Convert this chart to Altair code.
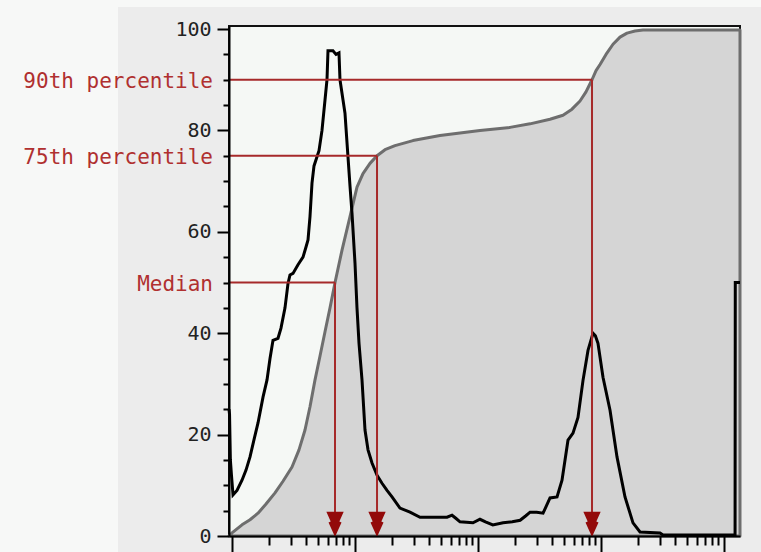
import altair as alt
import pandas as pd

# ---- data ----
# histogram (black line): channel value (log axis) and height
hist_x = [0.9454, 0.955, 0.97, 0.99, 1.019, 1.098, 1.206, 1.30, 1.401, 1.51, 1.627, 1.787, 1.926,
          2.037, 2.154, 2.366, 2.502, 2.697, 2.853, 2.961, 3.133, 3.44, 3.778, 3.996, 4.149, 4.306,
          4.471, 4.642, 4.91, 5.097, 5.391, 5.703, 5.92, 6.03, 6.62, 7.01, 7.41, 7.55, 7.99, 8.29,
          8.77, 9.107, 9.454, 10.0, 10.38, 10.78, 11.4, 12.06, 12.76, 13.75, 15.1, 16.58, 18.21,
          20.0, 23.2, 28.0, 33.8, 40.8, 56.0, 61.5, 66.0, 71.4, 91.0, 103.8, 115.0, 132.0, 160.0,
          190.0, 220.0, 245.0, 265.0, 300.0, 338.0, 385.0, 439.0, 482.0, 539.0, 592.0, 650.0,
          714.0, 784.0, 861.0, 900.0, 945.0, 1038.0, 1184.0, 1349.0, 1567.0, 1820.0, 2076.0,
          3017.0, 3192.0, 12300.0, 12350.0, 13490.0]
hist_y = [25, 24, 15, 12, 8.1, 9, 11, 13, 15.6, 19, 22.3, 27.4, 30.8,
          35, 38.6, 39, 41, 45, 49.8, 51.5, 51.8, 53.5, 55, 57, 58.4, 63,
          69.6, 73, 74.8, 76, 80, 86, 90, 95.7, 95.7, 95, 95.3, 90, 86, 83.4,
          74.8, 69, 63.7, 53.8, 45, 38, 30.8, 20.9, 17, 14.4, 12, 10.4, 9,
          7.7, 5.5, 4.7, 3.7, 3.7, 3.7, 4.1, 3.5, 2.8, 2.6, 3.3, 2.8, 2.2, 2.6,
          2.8, 3.1, 4.0, 4.7, 4.7, 4.5, 7.5, 7.7, 11, 18.9, 20.3, 23.4,
          30.7, 36.6, 40, 39.5, 38, 31.3, 24.8, 15.6, 7.7, 2.6, 0.8,
          0.6, 0.2, 0.2, 50, 50]

# cumulative percentage (grey area)
cdf_x = [0.9454, 1.0, 1.206, 1.401, 1.627, 1.89, 2.237, 2.598, 3.075, 3.505, 3.922, 4.306, 4.73,
         5.194, 5.703, 6.263, 6.88, 7.843, 9.107, 10.38, 11.61, 13.24, 15.1, 17.53, 21.14, 29.6,
         49.1, 103.8, 182.0, 264.8, 384.9, 491.0, 581.0, 675.0, 755.0, 845.0, 911.0, 982.0,
         1098.0, 1252.0, 1427.0, 1627.0, 1890.0, 2196.0, 13490.0]
cdf_y = [0, 0.6, 2.2, 3.2, 4.5, 6.3, 8.5, 10.8, 13.6, 17, 20.9, 25.5, 30.8,
         35.5, 40.3, 45, 50, 56.4, 63, 68.8, 71.5, 73.5, 75, 76.2, 77, 78,
         79, 80, 80.6, 81.3, 82.2, 83, 84.2, 85.8, 87.6, 90, 91.8, 93,
         95, 97, 98.4, 99.2, 99.6, 99.8, 99.8]

# percentile markers
pct_labels = ["Median", "75th percentile", "90th percentile"]
pct_levels = [50, 75, 90]
pct_x = [6.88, 15.1, 845.0]

x_ticks = [m * k for m in [1, 10, 100, 1000] for k in range(1, 10)] + [10000]
y_ticks = list(range(0, 101, 5))

XMIN, XMAX = 0.9454, 13490
YMAX = 100.6
W, H = 511, 510

RED = "#a62a2a"
ARROW = "#930a0a"
LABEL_RED = "#b03030"

hist = pd.DataFrame({"x": hist_x, "y": hist_y})
cdf = pd.DataFrame({"x": cdf_x, "y": cdf_y})
pct = pd.DataFrame({"x0": [XMIN] * 3, "x": pct_x, "y": pct_levels,
                    "zero": [0] * 3, "arrow": [2.5] * 3, "label": pct_labels})

xs = alt.Scale(type="log", domain=[XMIN, XMAX], nice=False)
ys = alt.Scale(domain=[0, YMAX], nice=False, zero=False)

x_axis = alt.Axis(values=x_ticks, labels=False, title=None, grid=False,
                  domainColor="black", domainWidth=2, tickColor="black", tickWidth=2,
                  tickSize={"condition": {"test": "indexof([1,10,100,1000,10000], datum.value) >= 0",
                                          "value": 16}, "value": 9},
                  zindex=2)
y_axis = alt.Axis(values=y_ticks, title=None, grid=False,
                  labelExpr="datum.value % 20 === 0 ? datum.label : ''",
                  labelOverlap=False, labelFlush=False,
                  labelFont="DejaVu Sans Mono", labelFontSize=20, labelColor="#222222",
                  labelPadding=6,
                  domainColor="black", domainWidth=2, tickColor="black", tickWidth=2,
                  tickSize={"condition": {"test": "datum.value % 20 === 0", "value": 12}, "value": 6},
                  zindex=2)

X = alt.X("x:Q", scale=xs, axis=x_axis)
Y = alt.Y("y:Q", scale=ys, axis=y_axis)

panel = alt.Chart(pd.DataFrame({"a": [0]})).mark_rect(color="#ececec").encode(
    x=alt.value(-111), x2=alt.value(W + 30), y=alt.value(-19), y2=alt.value(H + 20))
inner = alt.Chart(pd.DataFrame({"a": [0]})).mark_rect(
    fill="#f5f8f5", stroke="#111111", strokeWidth=2).encode(
    x=alt.value(0), x2=alt.value(W), y=alt.value(0), y2=alt.value(H))

area = alt.Chart(cdf).mark_area(color="#d5d5d5", stroke="#6e6e6e", strokeWidth=3,
                                 strokeJoin="round").encode(x=X, y=Y)

hline = alt.Chart(pct).mark_rule(color=RED, strokeWidth=2).encode(
    x=alt.X("x0:Q", scale=xs, axis=x_axis), x2="x:Q", y=Y)
vline = alt.Chart(pct).mark_rule(color=RED, strokeWidth=2).encode(
    x=X, y=Y, y2="zero:Q")

line = alt.Chart(hist).mark_line(color="black", strokeWidth=3, strokeJoin="miter").encode(x=X, y=Y)

arrow_shape = "M-1,-1.35L1,-1.35L0.5,-0.2L0.75,-0.1L0.1,1.35L-0.1,1.35L-0.75,-0.1L-0.5,-0.2Z"
arrows = alt.Chart(pct).mark_point(shape=arrow_shape, filled=True, size=300, color=ARROW,
                                   opacity=1).encode(
    x=X, y=alt.Y("arrow:Q", scale=ys, axis=y_axis))

labels = alt.Chart(pct).mark_text(align="right", baseline="middle", dx=-16, dy=2,
                                  font="DejaVu Sans Mono", fontSize=21, color=LABEL_RED).encode(
    x=alt.X("x0:Q", scale=xs, axis=x_axis), y=Y, text="label:N")

chart = alt.layer(panel, inner, area, line, hline, vline, arrows, labels).properties(
    width=W, height=H,
    padding={"left": 229, "top": 26, "right": 21, "bottom": 16},
    autosize=alt.AutoSizeParams(type="none"),
    background="#f7f8f7",
).configure_view(stroke=None)

chart.save("out.html", embed_options={"renderer": "svg", "actions": False})
